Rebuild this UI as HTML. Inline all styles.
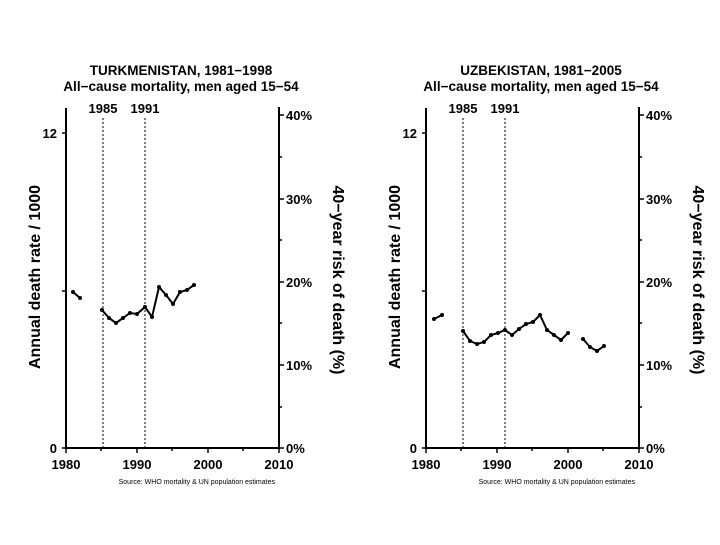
<!DOCTYPE html><html><head><style>body{margin:0;background:#fff}svg text{font-family:"Liberation Sans",Arial,sans-serif;font-weight:bold;fill:#000}</style></head><body>
<svg width="720" height="540" viewBox="0 0 720 540">
<text x="181" y="75" font-size="13.5" text-anchor="middle">TURKMENISTAN, 1981−1998</text>
<text x="181" y="91" font-size="13.5" text-anchor="middle">All−cause mortality, men aged 15−54</text>
<text x="541" y="75" font-size="13.5" text-anchor="middle">UZBEKISTAN, 1981−2005</text>
<text x="541" y="91" font-size="13.5" text-anchor="middle">All−cause mortality, men aged 15−54</text>
<defs><g id="ax">
<line x1="66" y1="108" x2="66" y2="449" stroke="#000" stroke-width="2"/>
<line x1="279" y1="107" x2="279" y2="449" stroke="#000" stroke-width="2"/>
<line x1="65" y1="448" x2="280" y2="448" stroke="#000" stroke-width="2"/>
<g stroke="#000" stroke-width="1.5">
<line x1="62" y1="133" x2="66" y2="133"/><line x1="62" y1="291" x2="66" y2="291"/><line x1="62" y1="448" x2="66" y2="448"/>
<line x1="66" y1="448" x2="66" y2="453"/><line x1="101" y1="448" x2="101" y2="451"/><line x1="137" y1="448" x2="137" y2="453"/><line x1="172" y1="448" x2="172" y2="451"/><line x1="208" y1="448" x2="208" y2="453"/><line x1="243" y1="448" x2="243" y2="451"/><line x1="279" y1="448" x2="279" y2="453"/>
<line x1="279" y1="115" x2="284" y2="115"/><line x1="279" y1="157" x2="282" y2="157"/><line x1="279" y1="199" x2="284" y2="199"/><line x1="279" y1="240" x2="282" y2="240"/><line x1="279" y1="282" x2="284" y2="282"/><line x1="279" y1="323" x2="282" y2="323"/><line x1="279" y1="365" x2="284" y2="365"/><line x1="279" y1="407" x2="282" y2="407"/><line x1="279" y1="448" x2="284" y2="448"/>
</g>
<line x1="103" y1="118" x2="103" y2="448" stroke="#000" stroke-dasharray="2,2"/>
<line x1="145" y1="118" x2="145" y2="448" stroke="#000" stroke-dasharray="2,2"/>
<text x="103" y="113" font-size="13" text-anchor="middle">1985</text>
<text x="145" y="113" font-size="13" text-anchor="middle">1991</text>
<g font-size="13"><text x="57" y="138" text-anchor="end">12</text><text x="57" y="453" text-anchor="end">0</text>
<text x="66" y="469" text-anchor="middle">1980</text><text x="137" y="469" text-anchor="middle">1990</text><text x="208" y="469" text-anchor="middle">2000</text><text x="279" y="469" text-anchor="middle">2010</text>
<text x="286" y="120">40%</text><text x="286" y="204">30%</text><text x="286" y="287">20%</text><text x="286" y="370">10%</text><text x="286" y="453">0%</text></g>
<text font-size="16" transform="translate(40,277) rotate(-90)" text-anchor="middle">Annual death rate / 1000</text>
<text font-size="16" transform="translate(333,280) rotate(90)" text-anchor="middle">40−year risk of death (%)</text>
<text x="275" y="484" font-size="7" style="font-weight:normal" text-anchor="end">Source: WHO mortality &amp; UN population estimates</text>
</g></defs>
<use href="#ax"/><use href="#ax" x="360"/>
<g fill="none" stroke="#000" stroke-width="2">
<polyline points="73,292 80,298"/>
<polyline points="102,310 109,318 116,323 123,318 130,313 137,314 145,307 152,317 159,287 166,295 173,304 180,292 187,290 194,285"/>
<polyline points="434,319 442,315"/>
<polyline points="463,331 470,341 477,344 484,342 491,335 498,333 505,330 512,335 519,329 526,324 533,322 540,315 547,330 554,335 561,340 568,333"/>
<polyline points="583,339 590,347 597,351 604,346"/>
</g>
<g fill="#000">
<circle cx="73" cy="292" r="2"/><circle cx="80" cy="298" r="2"/>
<circle cx="102" cy="310" r="2"/><circle cx="109" cy="318" r="2"/><circle cx="116" cy="323" r="2"/><circle cx="123" cy="318" r="2"/><circle cx="130" cy="313" r="2"/><circle cx="137" cy="314" r="2"/><circle cx="145" cy="307" r="2"/><circle cx="152" cy="317" r="2"/><circle cx="159" cy="287" r="2"/><circle cx="166" cy="295" r="2"/><circle cx="173" cy="304" r="2"/><circle cx="180" cy="292" r="2"/><circle cx="187" cy="290" r="2"/><circle cx="194" cy="285" r="2"/>
<circle cx="434" cy="319" r="2"/><circle cx="442" cy="315" r="2"/>
<circle cx="463" cy="331" r="2"/><circle cx="470" cy="341" r="2"/><circle cx="477" cy="344" r="2"/><circle cx="484" cy="342" r="2"/><circle cx="491" cy="335" r="2"/><circle cx="498" cy="333" r="2"/><circle cx="505" cy="330" r="2"/><circle cx="512" cy="335" r="2"/><circle cx="519" cy="329" r="2"/><circle cx="526" cy="324" r="2"/><circle cx="533" cy="322" r="2"/><circle cx="540" cy="315" r="2"/><circle cx="547" cy="330" r="2"/><circle cx="554" cy="335" r="2"/><circle cx="561" cy="340" r="2"/><circle cx="568" cy="333" r="2"/>
<circle cx="583" cy="339" r="2"/><circle cx="590" cy="347" r="2"/><circle cx="597" cy="351" r="2"/><circle cx="604" cy="346" r="2"/>
</g>
</svg></body></html>
